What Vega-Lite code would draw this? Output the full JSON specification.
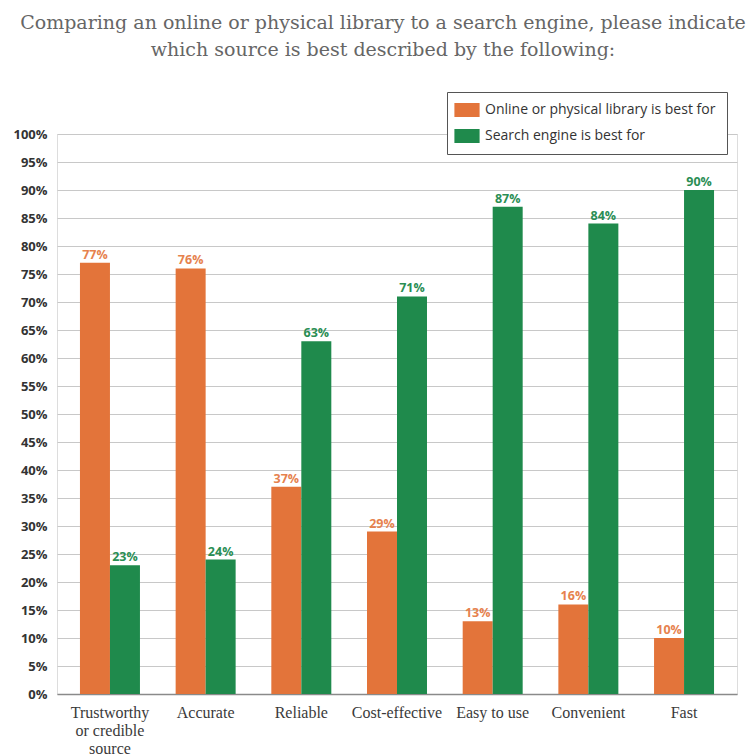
{
  "$schema": "https://vega.github.io/schema/vega-lite/v6.json",
  "width": 680,
  "height": 560,
  "autosize": {"type": "none"},
  "padding": {"left": 57, "top": 134, "right": 11, "bottom": 62},
  "background": "white",
  "title": {
    "text": ["Comparing an online or physical library to a search engine, please indicate", "which source is best described by the following:"],
    "font": "DejaVu Serif",
    "fontSize": 19,
    "fontWeight": "normal",
    "color": "#666666",
    "lineHeight": 27,
    "anchor": "middle",
    "frame": "group",
    "dx": -14,
    "offset": 32
  },
  "data": {
    "values": [
      {"attribute": "Trustworthy or credible source", "source": "Online or physical library is best for", "value": 0.77},
      {"attribute": "Trustworthy or credible source", "source": "Search engine is best for", "value": 0.23},
      {"attribute": "Accurate", "source": "Online or physical library is best for", "value": 0.76},
      {"attribute": "Accurate", "source": "Search engine is best for", "value": 0.24},
      {"attribute": "Reliable", "source": "Online or physical library is best for", "value": 0.37},
      {"attribute": "Reliable", "source": "Search engine is best for", "value": 0.63},
      {"attribute": "Cost-effective", "source": "Online or physical library is best for", "value": 0.29},
      {"attribute": "Cost-effective", "source": "Search engine is best for", "value": 0.71},
      {"attribute": "Easy to use", "source": "Online or physical library is best for", "value": 0.13},
      {"attribute": "Easy to use", "source": "Search engine is best for", "value": 0.87},
      {"attribute": "Convenient", "source": "Online or physical library is best for", "value": 0.16},
      {"attribute": "Convenient", "source": "Search engine is best for", "value": 0.84},
      {"attribute": "Fast", "source": "Online or physical library is best for", "value": 0.10},
      {"attribute": "Fast", "source": "Search engine is best for", "value": 0.90}
    ]
  },
  "encoding": {
    "x": {
      "field": "attribute",
      "type": "nominal",
      "sort": ["Trustworthy or credible source", "Accurate", "Reliable", "Cost-effective", "Easy to use", "Convenient", "Fast"],
      "scale": {"paddingInner": 0.373, "paddingOuter": 0.24},
      "axis": {
        "title": null,
        "labelAngle": 0,
        "labelFont": "Liberation Serif",
        "labelFontSize": 16,
        "labelColor": "#3a3a3a",
        "labelPadding": 10,
        "labelBaseline": "top",
        "labelLineHeight": 18,
        "ticks": false,
        "domain": true,
        "domainColor": "#8a8a8a",
        "domainWidth": 1.5,
        "labelExpr": "datum.value == 'Trustworthy or credible source' ? ['Trustworthy', 'or credible', 'source'] : datum.value"
      }
    },
    "xOffset": {
      "field": "source",
      "type": "nominal",
      "sort": ["Online or physical library is best for", "Search engine is best for"],
      "scale": {"paddingInner": 0, "paddingOuter": 0}
    },
    "y": {
      "field": "value",
      "type": "quantitative",
      "scale": {"domain": [0, 1], "nice": false},
      "axis": {
        "title": null,
        "values": [0, 0.05, 0.1, 0.15, 0.2, 0.25, 0.3, 0.35, 0.4, 0.45, 0.5, 0.55, 0.6, 0.65, 0.7, 0.75, 0.8, 0.85, 0.9, 0.95, 1],
        "format": ".0%",
        "labelFont": "Open Sans",
        "labelFontWeight": "bold",
        "labelFontSize": 13,
        "labelColor": "#333333",
        "labelPadding": 10,
        "ticks": false,
        "domain": false,
        "grid": true,
        "gridColor": "#c8c8c8",
        "gridWidth": 1.2
      }
    }
  },
  "layer": [
    {
      "mark": {"type": "bar"},
      "encoding": {
        "color": {
          "field": "source",
          "type": "nominal",
          "scale": {"domain": ["Online or physical library is best for", "Search engine is best for"], "range": ["#E3743A", "#1F8A4C"]},
          "legend": {
            "title": null,
            "orient": "none",
            "legendX": 390,
            "legendY": -42,
            "direction": "vertical",
            "strokeColor": "#555555",
            "fillColor": "white",
            "padding": 11,
            "symbolType": "M-1.8,-1H1.8V1H-1.8Z",
            "symbolSize": 196,
            "symbolStrokeWidth": 0,
            "symbolOffset": 2,
            "labelFont": "Open Sans",
            "labelFontSize": 14,
            "labelColor": "#333333",
            "labelOffset": 11,
            "rowPadding": 12,
            "labelLimit": 400
          }
        }
      }
    },
    {
      "mark": {"type": "text", "dy": -4, "baseline": "alphabetic", "font": "Open Sans", "fontWeight": "bold", "fontSize": 12.5},
      "encoding": {
        "text": {"field": "value", "type": "quantitative", "format": ".0%"},
        "color": {
          "field": "source",
          "type": "nominal",
          "scale": {"domain": ["Online or physical library is best for", "Search engine is best for"], "range": ["#E6824E", "#2A8E54"]},
          "legend": null
        }
      }
    }
  ],
  "resolve": {"scale": {"color": "independent"}}
}
